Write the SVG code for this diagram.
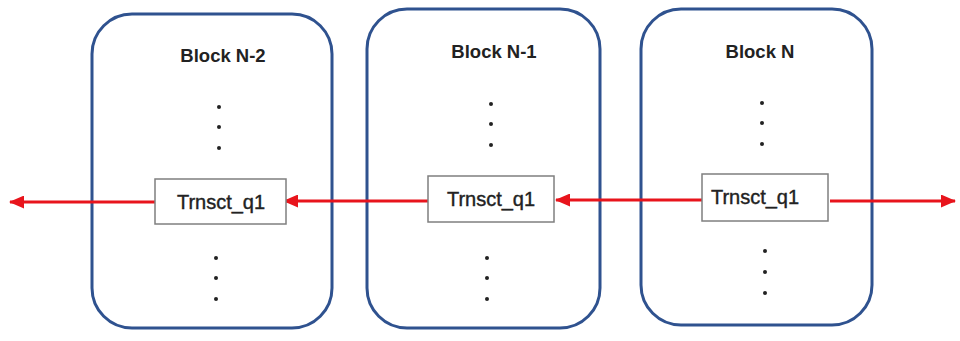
<svg xmlns="http://www.w3.org/2000/svg" width="960" height="341" viewBox="0 0 960 341">
<defs>
<style>
.blk{fill:#fff;stroke:#2f528f;stroke-width:3}
.box{fill:#fff;stroke:#7f7f7f;stroke-width:1.5}
.ttl{font-family:"Liberation Sans",Arial,sans-serif;font-weight:bold;font-size:18.5px;fill:#222;text-anchor:middle}
.lbl{font-family:"Liberation Sans",Arial,sans-serif;font-size:20px;fill:#222;stroke:#222;stroke-width:0.4;text-anchor:middle}
.dot{fill:#222}
.arr{stroke:#e8141c;stroke-width:3;fill:none;marker-end:url(#ah)}
</style>
<marker id="ah" markerUnits="userSpaceOnUse" markerWidth="15" markerHeight="13" refX="14" refY="6.5" orient="auto">
<path d="M0,0 L15,6.5 L0,13 Z" fill="#e8141c"/>
</marker>
</defs>
<rect width="960" height="341" fill="#fff"/>
<g id="blockN2">
<rect class="blk" x="92" y="14" width="240" height="314" rx="40"/>
<text class="ttl" x="223" y="62">Block N-2</text>
<circle class="dot" cx="219" cy="107" r="2"/><circle class="dot" cx="219" cy="127" r="2"/><circle class="dot" cx="219" cy="148" r="2"/>
<circle class="dot" cx="216" cy="258" r="2"/><circle class="dot" cx="216" cy="278" r="2"/><circle class="dot" cx="216" cy="299" r="2"/>
</g>
<g id="blockN1">
<rect class="blk" x="367" y="9" width="233" height="319" rx="40"/>
<text class="ttl" x="494" y="58">Block N-1</text>
<circle class="dot" cx="491" cy="104" r="2"/><circle class="dot" cx="491" cy="124" r="2"/><circle class="dot" cx="491" cy="145" r="2"/>
<circle class="dot" cx="487" cy="258" r="2"/><circle class="dot" cx="487" cy="278" r="2"/><circle class="dot" cx="487" cy="299" r="2"/>
</g>
<g id="blockN">
<rect class="blk" x="641" y="9" width="231" height="316" rx="40"/>
<text class="ttl" x="760" y="58">Block N</text>
<circle class="dot" cx="762" cy="103" r="2"/><circle class="dot" cx="762" cy="123" r="2"/><circle class="dot" cx="762" cy="144" r="2"/>
<circle class="dot" cx="765" cy="251" r="2"/><circle class="dot" cx="765" cy="272" r="2"/><circle class="dot" cx="765" cy="293" r="2"/>
</g>
<g id="connectors">
<line class="arr" x1="155" y1="202" x2="10" y2="202"/>
<line class="arr" x1="428" y1="201" x2="284" y2="201"/>
<line class="arr" x1="702" y1="200" x2="556" y2="200"/>
<line class="arr" x1="830" y1="201" x2="955" y2="201"/>
</g>
<g id="txN2">
<rect class="box" x="155" y="179" width="131" height="45"/>
<text class="lbl" x="221" y="209">Trnsct_q1</text>
</g>
<g id="txN1">
<rect class="box" x="428" y="176" width="126" height="46"/>
<text class="lbl" x="491" y="206">Trnsct_q1</text>
</g>
<g id="txN">
<rect class="box" x="702" y="174" width="126" height="47"/>
<text class="lbl" x="755" y="204">Trnsct_q1</text>
</g>
</svg>
